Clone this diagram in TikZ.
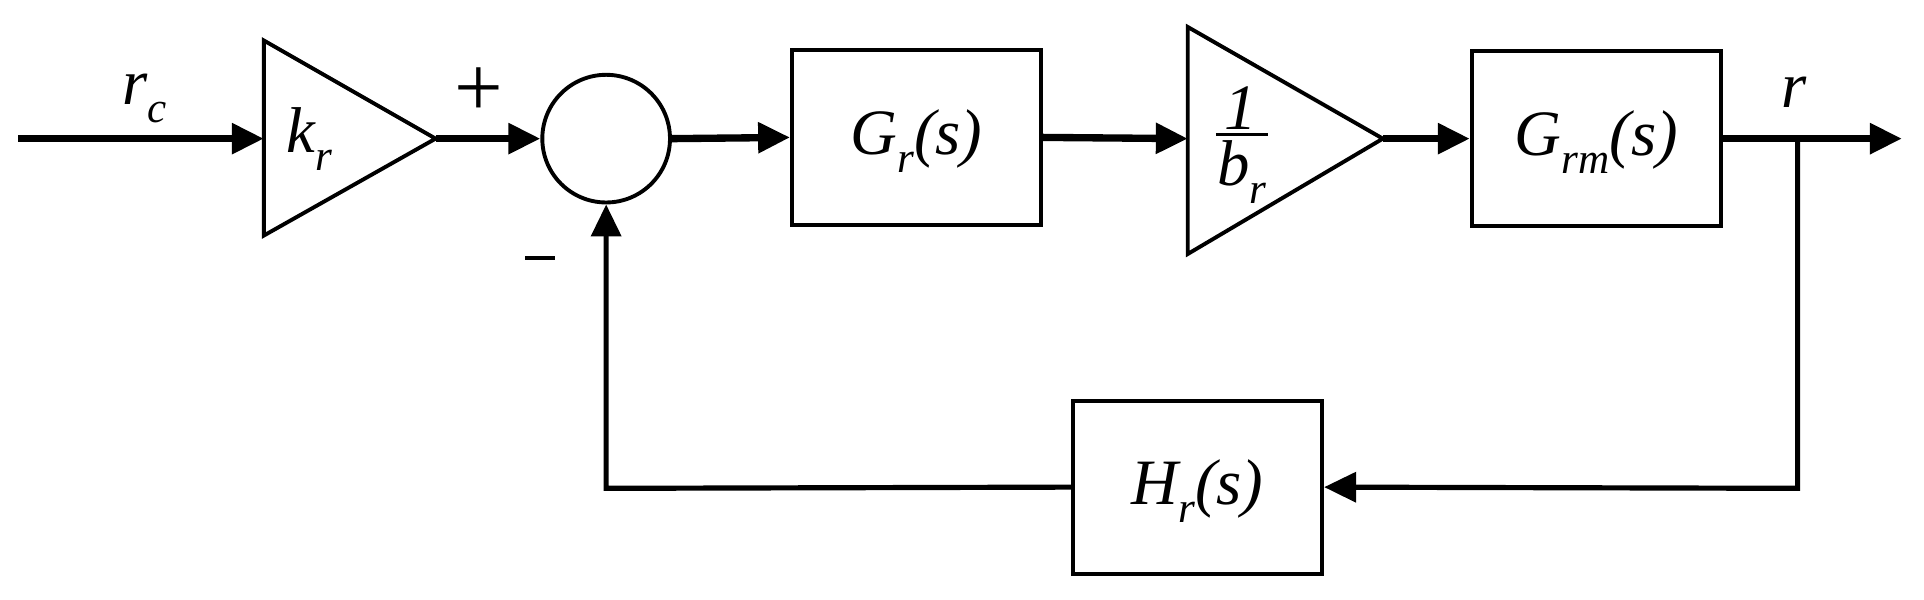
\documentclass[tikz,border=0pt]{standalone}
\usepackage{fontspec}
\setmainfont{Liberation Serif}
\usetikzlibrary{arrows.meta}
\begin{document}
\begin{tikzpicture}[x=0.01cm,y=-0.01cm,
  sig/.style={line width=1.7pt,-{Triangle[length=0.26cm,width=0.24cm]}},
  fb/.style={line width=1.2pt},
  blk/.style={draw,line width=0.9pt,minimum width=2.03cm,minimum height=1.43cm,inner sep=0pt},
  lab/.style={font=\fontsize{15}{17}\selectfont\itshape}]
\useasboundingbox (0,0) rectangle (1568,489);
\coordinate (in) at (15,113);
\draw[line width=0.9pt] (215,33) -- (355,113) -- (215,192) -- cycle;
\coordinate (kL) at (215,113); \coordinate (kR) at (355,113);
\node[lab] (k) at (252,113) {k\raisebox{-0.6ex}{\fontsize{10}{11}\selectfont r}};
\node[draw,circle,line width=0.9pt,minimum size=1.04cm,inner sep=0pt] (sum) at (494,113) {};
\node[blk] (G) at (747,112) {};
\node[lab] (Gt) at (747,115) {G\raisebox{-0.6ex}{\fontsize{10}{11}\selectfont r}(s)};
\draw[line width=0.9pt] (968,22) -- (1127,113) -- (968,207) -- cycle;
\coordinate (bL) at (968,113); \coordinate (bR) at (1127,113);
\node[lab] (b1) at (1011,88) {1};
\draw[line width=0.7pt] (991,110) -- (1033,110);
\node[lab] (b2) at (1012,140) {b\raisebox{-0.6ex}{\fontsize{10}{11}\selectfont r}};
\node[blk] (Gm) at (1301,113) {};
\node[lab] (Gmt) at (1301,116) {G\raisebox{-0.6ex}{\fontsize{10}{11}\selectfont rm}(s)};
\node[blk,minimum height=1.41cm] (H) at (976,397) {};
\node[lab] (Ht) at (976,400) {H\raisebox{-0.6ex}{\fontsize{10}{11}\selectfont r}(s)};
\coordinate (out) at (1550,113);
\coordinate (br) at (1465,113);
\coordinate (c1) at (1465,398);
\coordinate (c2) at (494,398);
\draw[sig] (in) -- (kL);
\draw[sig] (kR) -- (sum.west);
\draw[sig] (sum.east) -- (G.west);
\draw[sig] (G.east) -- (bL);
\draw[sig] (bR) -- (Gm.west);
\draw[sig] (Gm.east) -- (out);
\draw[fb,-{Triangle[length=0.26cm,width=0.24cm]}] (br) -- (c1) -- (H.east);
\draw[fb,-{Triangle[length=0.26cm,width=0.24cm]}] (H.west) -- (c2) -- (sum.south);
\node[lab] (rc) at (118,80) {r\raisebox{-0.6ex}{\fontsize{10}{11}\selectfont c}};
\node[lab] (r) at (1462,75) {r};
\node[font=\fontsize{20}{22}\selectfont] (plus) at (390,75) {+};
\draw[line width=1pt] (428,210) -- (452,210);
\end{tikzpicture}
\end{document}
